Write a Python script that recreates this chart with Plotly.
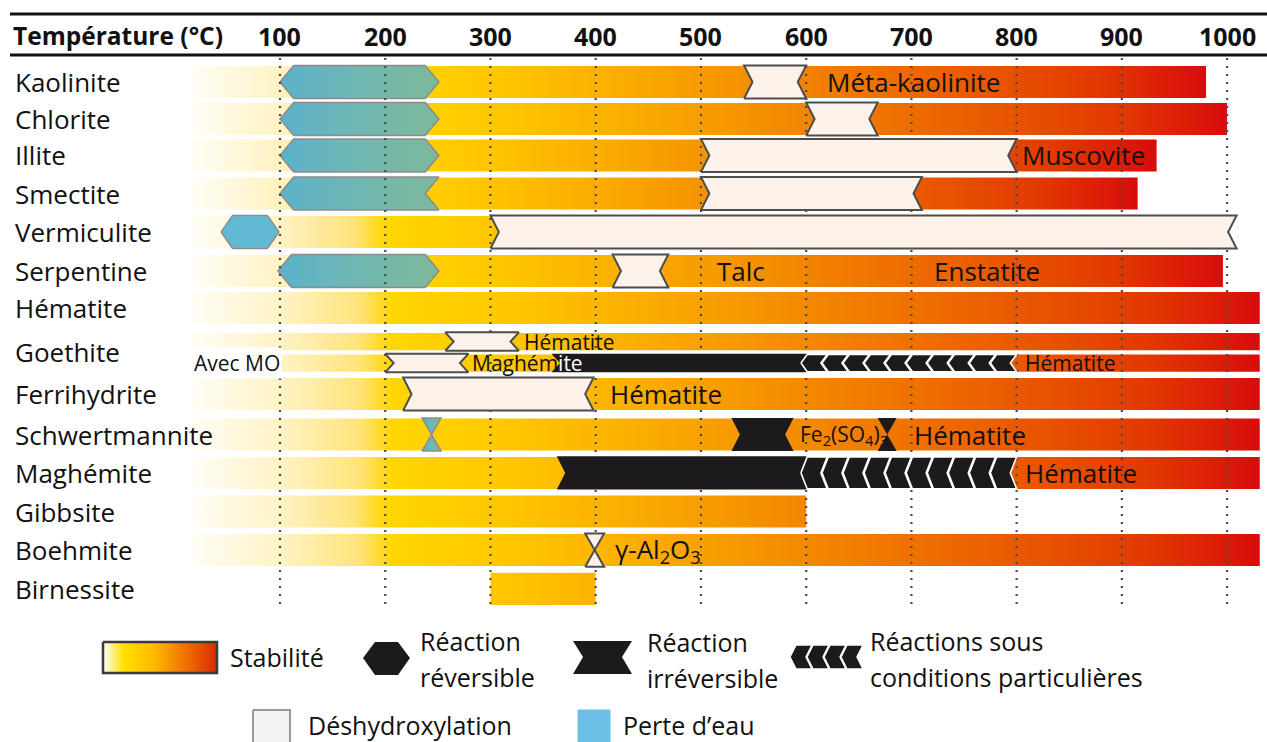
import plotly.graph_objects as go

# ------------------------------------------------------------------ data
minerals = ["Kaolinite", "Chlorite", "Illite", "Smectite", "Vermiculite", "Serpentine",
            "Hématite", "Goethite", "Ferrihydrite", "Schwertmannite", "Maghémite",
            "Gibbsite", "Boehmite", "Birnessite"]
row_pos = [0.0, 0.964, 1.914, 2.904, 3.906, 4.922, 5.885, 7.04, 8.125, 9.18,
           10.18, 11.185, 12.19, 13.2]

temp_ticks = [100, 200, 300, 400, 500, 600, 700, 800, 900, 1000]
tick_labels = ["100", "200", "300", "400", "500", "600", "700", "800", "900", "1000"]

# stability domains (gradient bars): mineral, sub-row (-1 upper / 0 full / +1 lower), start, end (°C)
stab_mineral = ["Kaolinite", "Chlorite", "Illite", "Smectite", "Vermiculite", "Serpentine",
                "Hématite", "Goethite", "Goethite", "Ferrihydrite", "Schwertmannite",
                "Maghémite", "Gibbsite", "Boehmite", "Birnessite"]
stab_sub = [0, 0, 0, 0, 0, 0, 0, -1, 1, 0, 0, 0, 0, 0, 0]
stab_start = [16, 16, 16, 16, 16, 16, 16, 16, 100, 16, 16, 16, 16, 16, 300]
stab_end = [980, 1000, 933, 915, 1000, 996, 1031, 1031, 1031, 1031, 1031, 1031, 600, 1031, 400]

# reactions
react_mineral = ["Kaolinite", "Chlorite", "Illite", "Smectite", "Vermiculite", "Serpentine",
                 "Schwertmannite",
                 "Kaolinite", "Chlorite", "Illite", "Smectite", "Vermiculite", "Serpentine",
                 "Goethite", "Goethite", "Ferrihydrite", "Boehmite",
                 "Goethite", "Schwertmannite", "Schwertmannite", "Maghémite"]
react_sub = [0, 0, 0, 0, 0, 0, 0,
             0, 0, 0, 0, 0, 0, -1, 1, 0, 0,
             1, 0, 0, 0]
react_kind = ["eau", "eau", "eau", "eau", "eau_bleu", "eau", "eau",
              "dehyd", "dehyd", "dehyd", "dehyd", "dehyd", "dehyd", "dehyd", "dehyd", "dehyd", "dehyd",
              "irrev", "irrev", "irrev", "irrev"]
react_start = [100, 100, 100, 100, 44, 98, 235,
               541, 600, 500, 500, 300, 416, 257, 200, 217, 390,
               358, 529, 668, 363]
react_end = [251, 251, 251, 251, 99, 251, 253,
             600, 668, 800, 710, 1009, 469, 327, 279, 398, 408,
             600, 588, 686, 600]
react_left = ["convex", "convex", "convex", "convex", "convex", "convex", "pinch",
              "concave", "concave", "concave", "concave", "concave", "concave", "concave",
              "concave", "concave", "pinch",
              "concave", "concave", "pinch", "concave"]
react_right = ["convex", "convex", "convex", "concave", "convex", "convex", "pinch",
               "concave", "concave", "concave", "concave", "concave", "concave", "concave",
               "concave", "concave", "pinch",
               "flat", "concave", "pinch", "flat"]

# reactions under particular conditions (chevron series)
cond_mineral = ["Goethite", "Maghémite"]
cond_sub = [1, 0]
cond_start = [600, 600]
cond_end = [800, 800]
cond_count = [10, 10]

# product labels
lab_text = ["Méta-kaolinite", "Muscovite", "Talc", "Enstatite", "Hématite", "Avec MO",
            "Maghém<span style='color:white'>ite</span>", "Hématite", "Hématite",
            "Fe<sub>2</sub>(SO<sub>4</sub>)<sub>3</sub>", "Hématite", "Hématite",
            "γ-Al<sub>2</sub>O<sub>3</sub>"]
lab_mineral = ["Kaolinite", "Illite", "Serpentine", "Serpentine", "Goethite", "Goethite",
               "Goethite", "Goethite", "Ferrihydrite", "Schwertmannite", "Schwertmannite",
               "Maghémite", "Boehmite"]
lab_sub = [0, 0, 0, 0, -1, 1, 1, 1, 0, 0, 0, 0, 0]
lab_T = [618, 803, 513, 720, 330, 16, 281, 806, 412, 592, 701, 806, 416]
lab_big = [True, True, True, True, False, False, False, False, True, False, True, True, True]

# ------------------------------------------------------------------ styles
FONT = "Open Sans"
stab_scale = [[0.0, "#FFFDF6"], [0.085, "#FFF3C4"], [0.157, "#FFE37A"], [0.187, "#FFD600"],
              [0.289, "#FFC800"], [0.39, "#FCB400"], [0.49, "#F89E00"], [0.593, "#F38500"],
              [0.695, "#EE6C00"], [0.797, "#E85300"], [0.898, "#E23800"], [1.0, "#D80C0C"]]
teal_scale = [[0, "#5BB2CB"], [0.5, "#70B7B2"], [1, "#7DB99A"]]
BLACK = "#1C1A1C"
HALF_FULL, HALF_SUB, SUB_OFF = 0.417, 0.225, 0.28

idx = {m: i for i, m in enumerate(minerals)}


def row_y(m, sub):
    return row_pos[idx[m]] + sub * SUB_OFF


def row_h(sub):
    return HALF_FULL if sub == 0 else HALF_SUB


def poly(x0, x1, yc, h, left, right, d):
    top, bot = yc - h, yc + h
    half = (x1 - x0) / 2
    xs, ys = [], []
    if left == "flat":
        xs += [x0, x0]; ys += [bot, top]
    elif left == "convex":
        xs += [x0 + d, x0, x0 + d]; ys += [bot, yc, top]
    elif left == "concave":
        xs += [x0, x0 + d, x0]; ys += [bot, yc, top]
    else:  # pinch
        xs += [x0, x0 + half, x0]; ys += [bot, yc, top]
    if right == "flat":
        xs += [x1, x1]; ys += [top, bot]
    elif right == "convex":
        xs += [x1 - d, x1, x1 - d]; ys += [top, yc, bot]
    elif right == "concave":
        xs += [x1, x1 - d, x1]; ys += [top, yc, bot]
    else:
        xs += [x1, x1 - half, x1]; ys += [top, yc, bot]
    xs.append(xs[0]); ys.append(ys[0])
    return xs, ys


fig = go.Figure()


def add_poly(xs, ys, fillcolor=None, line_color=None, line_width=0, gradient=None,
             xaxis="x", yaxis="y"):
    kw = dict(x=xs, y=ys, mode="lines", fill="toself", hoverinfo="skip", showlegend=False,
              xaxis=xaxis, yaxis=yaxis,
              line=dict(color=line_color or "rgba(0,0,0,0)", width=line_width))
    if gradient is not None:
        kw["fillgradient"] = gradient
    else:
        kw["fillcolor"] = fillcolor
    fig.add_trace(go.Scatter(**kw))


# stability bars
for m, s, a, b in zip(stab_mineral, stab_sub, stab_start, stab_end):
    xs, ys = poly(a, b, row_y(m, s), row_h(s), "flat", "flat", 0)
    stop = b if b >= 900 else 1000
    add_poly(xs, ys, gradient=dict(type="horizontal", colorscale=stab_scale, start=16, stop=stop))

kind_style = {
    "eau": dict(gradient=dict(type="horizontal", colorscale=teal_scale), line_color="#8C8C8C", line_width=1.5),
    "eau_bleu": dict(fillcolor="#62B9D4", line_color="#8C8C8C", line_width=1.5),
    "dehyd": dict(fillcolor="#FCF2E9", line_color="#4D4D4D", line_width=2),
    "irrev": dict(fillcolor=BLACK, line_color=None, line_width=0),
}
kind_notch = {"eau": 13, "eau_bleu": 11, "dehyd": 8, "irrev": 8}


def draw_reactions(kinds):
    for m, s, k, a, b, l, r in zip(react_mineral, react_sub, react_kind, react_start,
                                   react_end, react_left, react_right):
        if k not in kinds:
            continue
        xs, ys = poly(a, b, row_y(m, s), row_h(s) + 0.015, l, r, kind_notch[k])
        add_poly(xs, ys, **kind_style[k])


draw_reactions({"eau", "eau_bleu"})

# dotted temperature guides
for t in temp_ticks:
    fig.add_trace(go.Scatter(x=[t, t], y=[-0.625, 13.7], mode="lines", hoverinfo="skip",
                             showlegend=False,
                             line=dict(color="#4A4A4A", width=2.2, dash="2px,6px")))

draw_reactions({"dehyd", "irrev"})

# chevron series
for m, s, a, b, n in zip(cond_mineral, cond_sub, cond_start, cond_end, cond_count):
    w = (b - a) / n
    d = 6
    yc, h = row_y(m, s), row_h(s)
    # black underlay joining the solid bar to the first chevron
    xs, ys = poly(a - 1, a + w / 2, yc, h, "flat", "flat", 0)
    add_poly(xs, ys, fillcolor=BLACK)
    for i in range(n):
        c0 = a + i * w - d + 1
        c1 = c0 + w - 1
        xs = [c0, c0 + d, c1 + d, c1, c1 + d, c0 + d, c0]
        ys = [yc, yc - h, yc - h, yc, yc + h, yc + h, yc]
        add_poly(xs, ys, fillcolor=BLACK, line_color="white", line_width=1.6)

annotations = []
# row labels
for m, p in zip(minerals, row_pos):
    annotations.append(dict(x=13 / 1267, xref="paper", y=p, yref="y", text=m,
                            xanchor="left", yanchor="middle", showarrow=False,
                            font=dict(family=FONT, size=26, color="#111")))
# header
annotations.append(dict(x=11 / 1267, xref="paper", y=-1.2, yref="y", text="<b>Température (°C)</b>",
                        xanchor="left", yanchor="middle", showarrow=False,
                        font=dict(family=FONT, size=24.5, color="#111")))
for t, lab in zip(temp_ticks, tick_labels):
    annotations.append(dict(x=t, xref="x", y=-1.2, yref="y", text="<b>" + lab + "</b>",
                            xanchor="center", yanchor="middle", showarrow=False,
                            font=dict(family=FONT, size=25, color="#111")))
# product labels
for txt, m, s, t, big in zip(lab_text, lab_mineral, lab_sub, lab_T, lab_big):
    annotations.append(dict(x=t, xref="x", y=row_y(m, s), yref="y", text=txt,
                            xanchor="left", yanchor="middle", showarrow=False,
                            bgcolor="white" if txt == "Avec MO" else None,
                            font=dict(family=FONT, size=26 if big else 21, color="#111")))

shapes = [
    dict(type="line", xref="paper", yref="y", x0=10 / 1267, x1=1, y0=-1.77, y1=-1.77,
         line=dict(color="#111", width=3)),
    dict(type="line", xref="paper", yref="y", x0=10 / 1267, x1=1, y0=-0.70, y1=-0.70,
         line=dict(color="#111", width=3)),
]

# ------------------------------------------------------------------ legend (pixel layer x2/y2)
L = dict(xaxis="x2", yaxis="y2")
add_poly([103, 217, 217, 103, 103], [642, 642, 673, 673, 642],
         gradient=dict(type="horizontal", colorscale=[[0, "#FFFFFF"], [0.18, "#FFE000"],
                                                      [0.45, "#FFB800"], [0.75, "#F06A00"],
                                                      [1, "#D82A00"]]),
         line_color="#3A3A3A", line_width=2.5, **L)
add_poly([363, 375, 398, 410, 398, 375, 363], [658, 642, 642, 658, 675, 675, 658],
         fillcolor=BLACK, **L)
add_poly([573, 632, 622, 632, 573, 583, 573], [641, 641, 657, 674, 674, 657, 641],
         fillcolor=BLACK, **L)
for i in range(4):
    c0 = 790 + i * 17
    c1 = c0 + 16
    add_poly([c0, c0 + 6, c1 + 6, c1, c1 + 6, c0 + 6, c0], [657, 645, 645, 657, 669, 669, 657],
             fillcolor=BLACK, line_color="white", line_width=1.5, **L)
add_poly([253, 290, 290, 253, 253], [710, 710, 745, 745, 710], fillcolor="#F3F3F3",
         line_color="#9A9A9A", line_width=2, **L)
add_poly([578, 610, 610, 578, 578], [710, 710, 745, 745, 710], fillcolor="#6CC0E8",
         line_color="#6CC0E8", line_width=1, **L)

leg_text = ["Stabilité", "Réaction", "réversible", "Réaction", "irréversible",
            "Réactions sous", "conditions particulières", "Déshydroxylation", "Perte d’eau"]
leg_x = [228, 418, 418, 645, 645, 868, 868, 306, 621]
leg_y = [657, 641, 677, 642, 678, 641, 677, 725, 725]
for t, x, y in zip(leg_text, leg_x, leg_y):
    annotations.append(dict(x=x, xref="x2", y=y, yref="y2", text=t, xanchor="left",
                            yanchor="middle", showarrow=False,
                            font=dict(family=FONT, size=25, color="#111")))

fig.update_layout(
    width=1267, height=742, margin=dict(l=0, r=0, t=0, b=0, pad=0),
    paper_bgcolor="white", plot_bgcolor="white", showlegend=False,
    xaxis=dict(range=[-166.06, 1037.9], visible=False, fixedrange=True, domain=[0, 1]),
    yaxis=dict(range=[17.1875, -2.135], visible=False, fixedrange=True, domain=[0, 1]),
    xaxis2=dict(range=[0, 1267], visible=False, fixedrange=True, overlaying="x", anchor="y2"),
    yaxis2=dict(range=[742, 0], visible=False, fixedrange=True, overlaying="y", anchor="x2"),
    annotations=annotations, shapes=shapes,
)

fig.write_html("out.html", config={"displayModeBar": False},
               post_script="document.body.style.margin='0px';")
